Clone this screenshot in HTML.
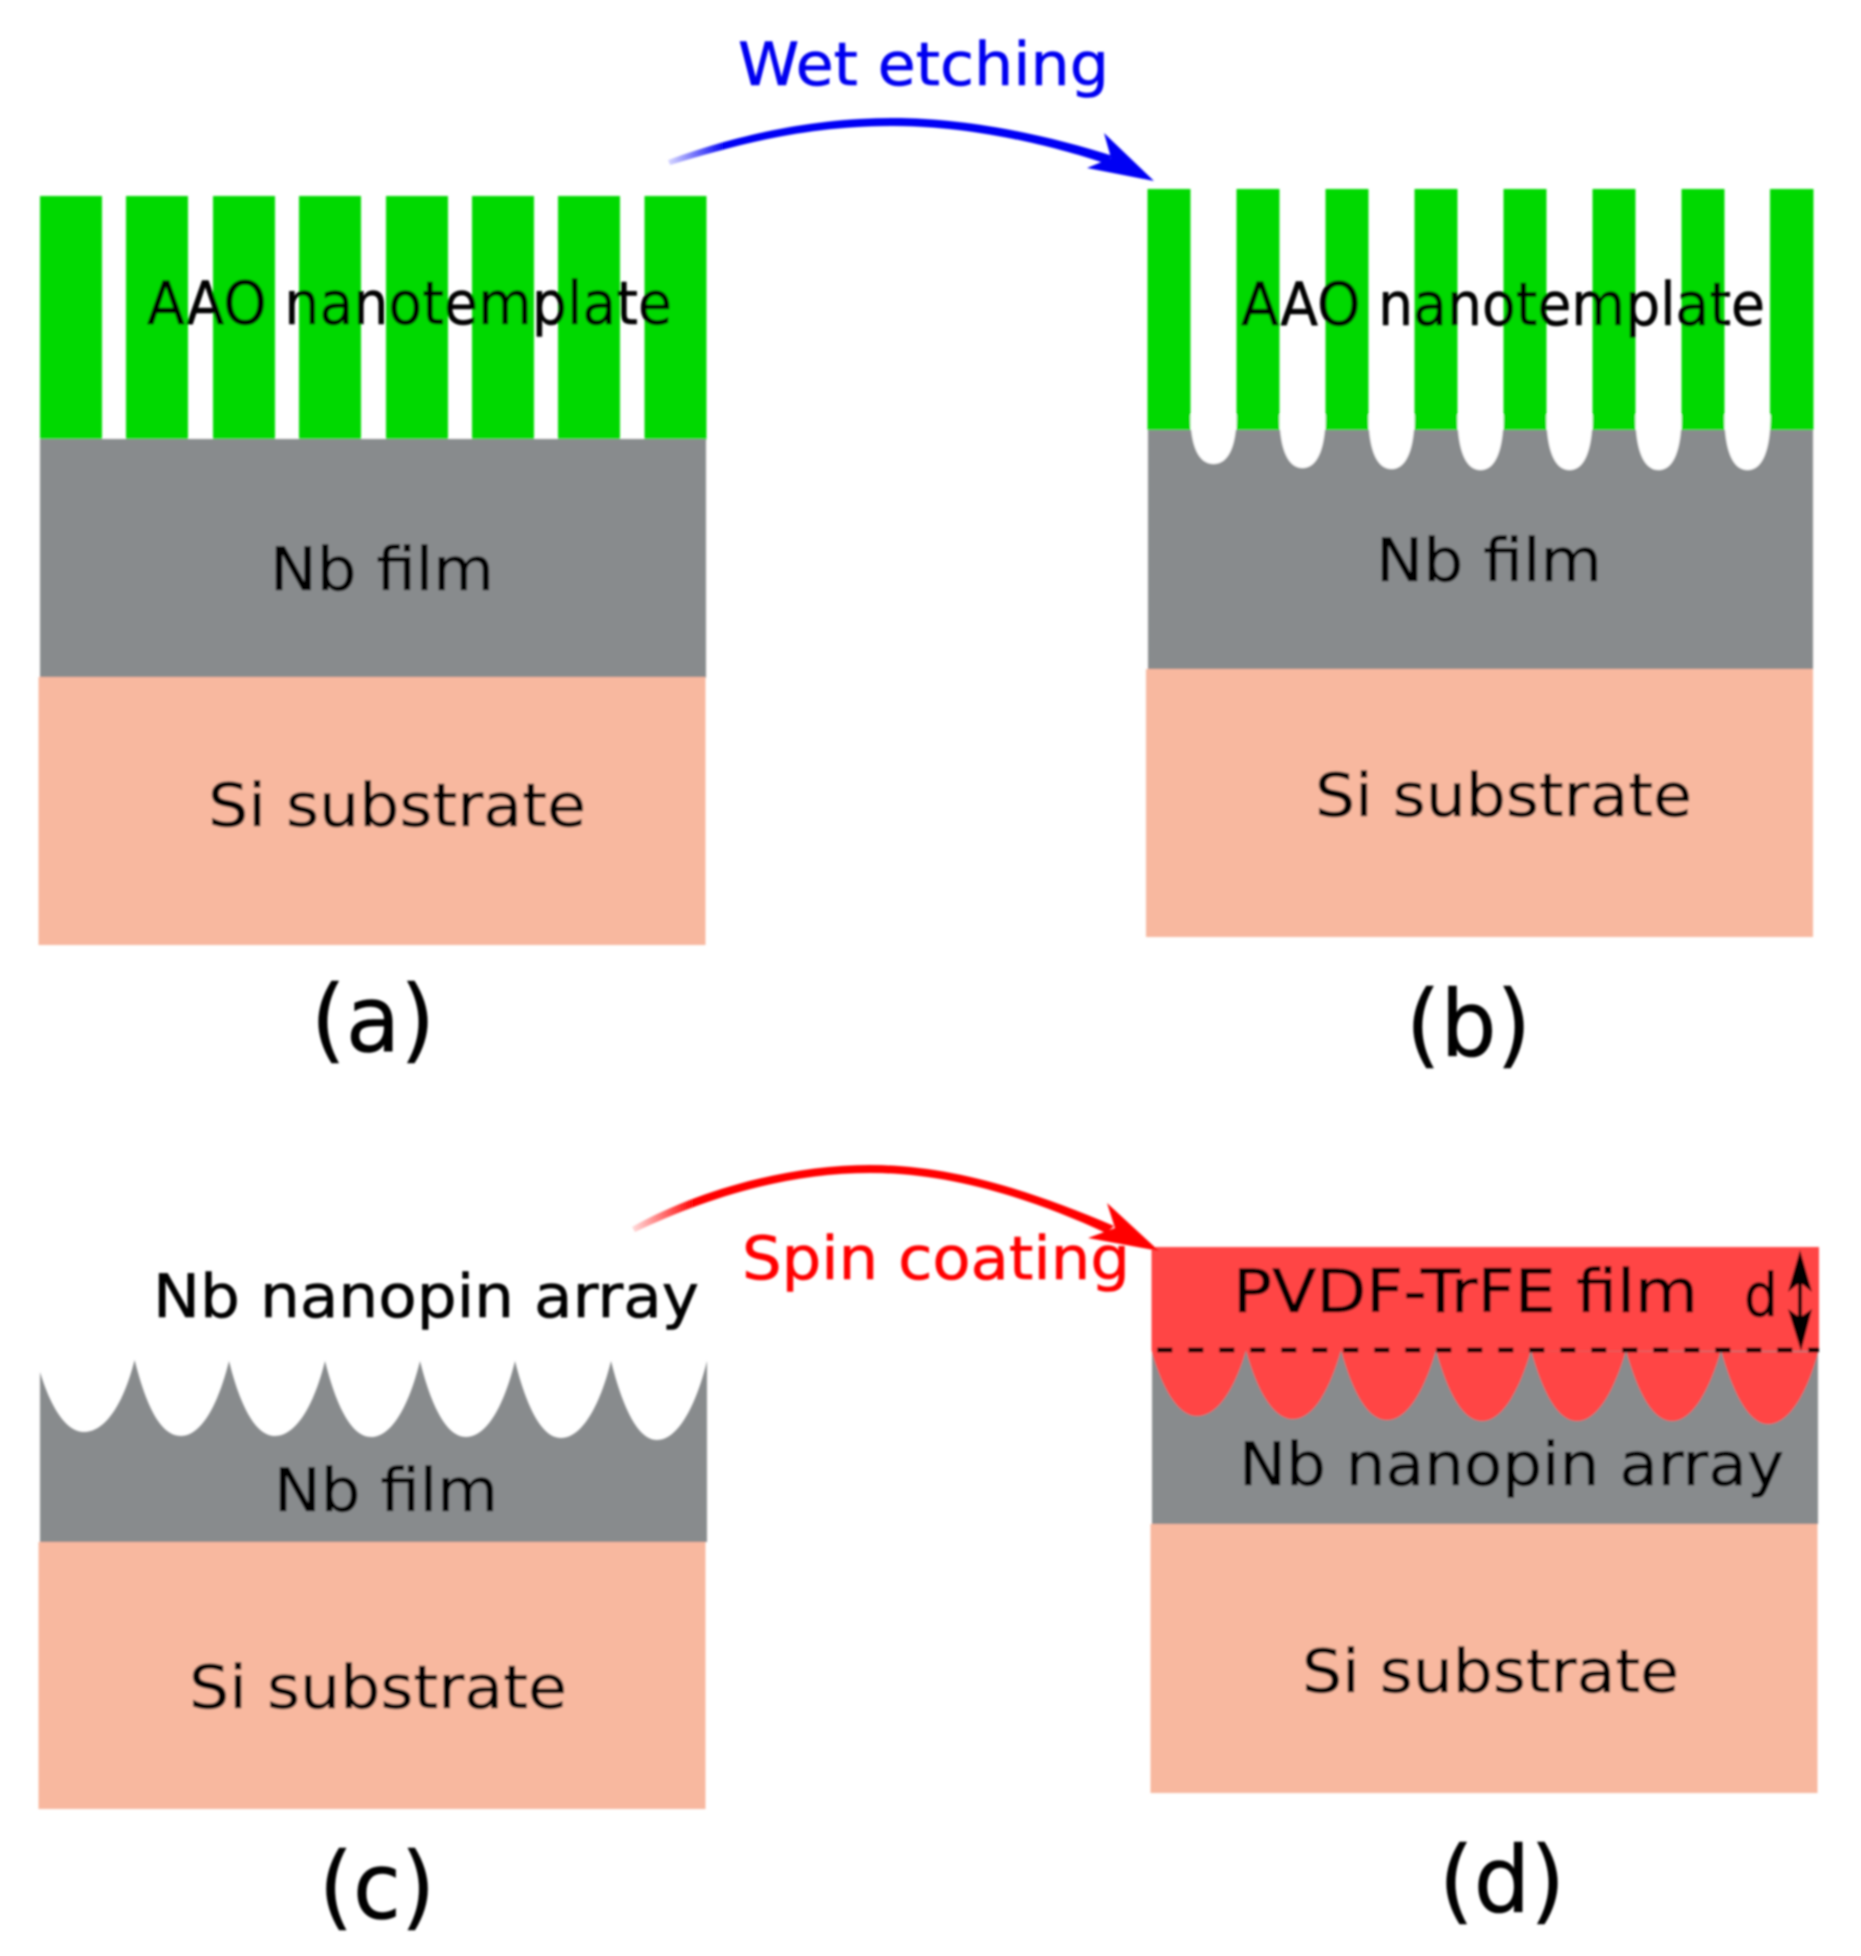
<!DOCTYPE html>
<html><head><meta charset="utf-8"><style>
html,body{margin:0;padding:0;background:#fff}
svg{display:block}
text{font-family:"DejaVu Sans","Liberation Sans",sans-serif;font-size:60px;fill:#050505;stroke:#050505;stroke-width:.6px}
.p{font-size:92px}
</style></head><body>
<svg width="1861" height="1956" viewBox="0 0 1861 1956" xmlns="http://www.w3.org/2000/svg">
<defs>
<linearGradient id="bl" gradientUnits="userSpaceOnUse" x1="668" y1="0" x2="725" y2="0"><stop offset="0" stop-color="#d8d8ff"/><stop offset="1" stop-color="#0000f4"/></linearGradient>
<linearGradient id="rd" gradientUnits="userSpaceOnUse" x1="632" y1="0" x2="695" y2="0"><stop offset="0" stop-color="#ffdcdc"/><stop offset="1" stop-color="#ff0000"/></linearGradient>
<filter id="s" x="-2%" y="-2%" width="104%" height="104%"><feGaussianBlur stdDeviation="1.1"/></filter>
</defs>
<rect width="1861" height="1956" fill="#fff"/>
<g filter="url(#s)">
<!-- panel a -->
<g fill="#00d900">
<rect x="40" y="196" width="62" height="244"/><rect x="126" y="196" width="62" height="244"/><rect x="213" y="196" width="62" height="244"/><rect x="299" y="196" width="62" height="244"/><rect x="386" y="196" width="62" height="244"/><rect x="472" y="196" width="62" height="244"/><rect x="558" y="196" width="62" height="244"/><rect x="644.500" y="196" width="62" height="244"/>
</g>
<rect x="40" y="439" width="666" height="239" fill="#888b8d"/>
<rect x="38.500" y="677" width="667" height="268" fill="#f8b89f"/>
<!-- panel b -->
<rect x="1148" y="430" width="665" height="240" fill="#888b8d"/>
<g fill="#00d900">
<rect x="1147.500" y="189" width="43" height="241"/><rect x="1236.500" y="189" width="43" height="241"/><rect x="1325.500" y="189" width="43" height="241"/><rect x="1414.500" y="189" width="43" height="241"/><rect x="1503.500" y="189" width="43" height="241"/><rect x="1592.500" y="189" width="43" height="241"/><rect x="1681.500" y="189" width="43" height="241"/><rect x="1770" y="189" width="43.500" height="241"/>
</g>
<g fill="#fff">
<path d="M1190.500,415 C1190.500,445 1198,464 1213.500,464 C1229,464 1236.500,445 1236.500,415 Z"/>
<path d="M1279.500,415 C1279.500,447 1287,468 1302.500,468 C1318,468 1325.500,447 1325.500,415 Z"/>
<path d="M1368.500,415 C1368.500,448 1376,469 1391.500,469 C1407,469 1414.500,448 1414.500,415 Z"/>
<path d="M1457.500,415 C1457.500,449 1465,470 1480.500,470 C1496,470 1503.500,449 1503.500,415 Z"/>
<path d="M1546.500,415 C1546.500,449 1554,470 1569.500,470 C1585,470 1592.500,449 1592.500,415 Z"/>
<path d="M1635.500,415 C1635.500,449 1643,470 1658.500,470 C1674,470 1681.500,449 1681.500,415 Z"/>
<path d="M1724.500,415 C1724.500,449 1732,470 1747.500,470 C1763,470 1770.500,449 1770.500,415 Z"/>
</g>
<rect x="1146" y="669" width="667" height="268" fill="#f8b89f"/>
<!-- panel c -->
<path fill="#888b8d" d="M40,1372 C50,1405 65,1432 84,1432 C106,1432 124,1402 134.600,1360 C146,1405 160,1436 181,1436 C202,1436 219,1402 229,1361 C240,1405 255,1436 275,1436 C297,1436 315,1402 325,1361 C336,1405 351,1437 371,1437 C393,1437 410,1402 420,1361 C431,1405 446,1437 466,1437 C488,1437 505,1402 515,1361 C526,1405 541,1438 561,1438 C583,1438 601,1402 611,1361 C622,1405 637,1440 657,1440 C679,1440 697,1402 707,1361 V1542 H40 Z"/>
<rect x="38.500" y="1542" width="667" height="267" fill="#f8b89f"/>
<!-- panel d -->
<rect x="1152" y="1348" width="666" height="176" fill="#888b8d"/>
<rect x="1151.500" y="1247" width="667.500" height="104" fill="#ff4444"/>
<path fill="#ff4444" d="M1151.500,1350 C1161,1385 1177,1416 1197,1416 C1219,1416 1236,1385 1246,1350 C1257,1390 1273,1419 1293,1419 C1315,1419 1331,1385 1341,1350 C1352,1390 1367,1420 1387,1420 C1409,1420 1426,1385 1436,1350 C1447,1390 1462,1421 1482,1421 C1504,1421 1521,1385 1531,1350 C1542,1390 1557,1421 1577,1421 C1599,1421 1616,1385 1626,1350 C1637,1390 1652,1421 1672,1421 C1694,1421 1711,1385 1721,1350 C1732,1390 1748,1424 1768,1424 C1790,1424 1808,1390 1818,1352 Z"/>
<rect x="1150.500" y="1524" width="667" height="269" fill="#f8b89f"/>
<line x1="1157.300" y1="1350" x2="1819" y2="1350" stroke="#000" stroke-width="5" stroke-dasharray="15 16"/>
<path d="M1800,1250 L1812,1292 L1802,1284 V1316 L1812,1309 L1801,1351 L1788,1309 L1798,1316 V1284 L1788,1292 Z" fill="#000"/>
<!-- blue arrow -->
<path fill="url(#bl)" d="M668,160 C720,141 800,118 893,118 C970,118 1050,136 1113,156 L1104,163 C1050,145 970,126 893,126 C800,126 730,147 670,165 Z"/>
<path fill="#0000f4" d="M1154,181 L1104,133 L1111,158 L1087,168 Z"/>
<!-- red arrow -->
<path fill="url(#rd)" d="M632,1227 C700,1189 790,1165 870,1165 C950,1165 1030,1190 1114,1226 L1106,1233 C1030,1198 950,1173 870,1173 C790,1173 710,1196 635,1232 Z"/>
<path fill="#ff0000" d="M1159,1251 L1107,1203 L1115,1228 L1088,1238 Z"/>
<!-- labels -->
<text x="147" y="324" textLength="525" lengthAdjust="spacingAndGlyphs">AAO nanotemplate</text>
<text x="1241" y="325" textLength="524" lengthAdjust="spacingAndGlyphs">AAO nanotemplate</text>
<text x="270" y="590" textLength="224" lengthAdjust="spacingAndGlyphs">Nb film</text>
<text x="1376" y="581" textLength="226" lengthAdjust="spacingAndGlyphs">Nb film</text>
<text x="208" y="826" textLength="378" lengthAdjust="spacingAndGlyphs">Si substrate</text>
<text x="1315" y="816" textLength="377" lengthAdjust="spacingAndGlyphs">Si substrate</text>
<text x="738" y="85" textLength="371" lengthAdjust="spacingAndGlyphs" style="fill:#0000f0;stroke:#0000f0">Wet etching</text>
<text x="153" y="1317" textLength="546" lengthAdjust="spacingAndGlyphs">Nb nanopin array</text>
<text x="1239" y="1485" textLength="545" lengthAdjust="spacingAndGlyphs">Nb nanopin array</text>
<text x="274" y="1511" textLength="224" lengthAdjust="spacingAndGlyphs">Nb film</text>
<text x="189" y="1708" textLength="378" lengthAdjust="spacingAndGlyphs">Si substrate</text>
<text x="1302" y="1692" textLength="377" lengthAdjust="spacingAndGlyphs">Si substrate</text>
<text x="742" y="1279" textLength="388" lengthAdjust="spacingAndGlyphs" style="fill:#ff0000;stroke:#ff0000">Spin coating</text>
<text x="1233" y="1312" textLength="465" lengthAdjust="spacingAndGlyphs">PVDF-TrFE film</text>
<text x="1744" y="1316" textLength="34" lengthAdjust="spacingAndGlyphs">d</text>
<text class="p" x="311" y="1051" textLength="124" lengthAdjust="spacingAndGlyphs">(a)</text>
<text class="p" x="1406" y="1056" textLength="125" lengthAdjust="spacingAndGlyphs">(b)</text>
<text class="p" x="319" y="1918" textLength="116" lengthAdjust="spacingAndGlyphs">(c)</text>
<text class="p" x="1439" y="1912" textLength="126" lengthAdjust="spacingAndGlyphs">(d)</text>
</g>
</svg>
</body></html>
